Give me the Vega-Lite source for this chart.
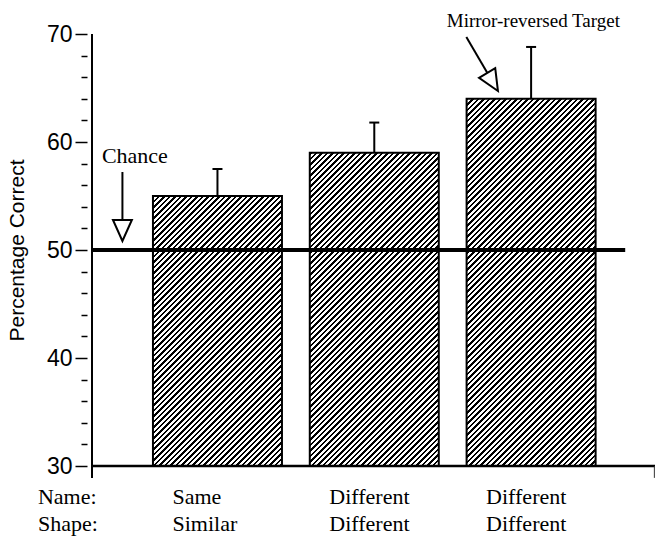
{
  "$schema": "https://vega.github.io/schema/vega-lite/v6.json",
  "width": 573,
  "height": 432,
  "autosize": {"type": "none"},
  "padding": {"left": 87, "top": 34, "right": 2, "bottom": 73},
  "config": {"view": {"stroke": null}, "font": "Liberation Sans", "axis": {"labelOverlap": false}},
  "data": {
    "values": [
      {"cond": 1, "name": "Same", "shape": "Similar", "pct": 55, "upper": 57.5},
      {"cond": 2, "name": "Different", "shape": "Different", "pct": 59, "upper": 61.8},
      {"cond": 3, "name": "Different", "shape": "Different", "pct": 64, "upper": 68.8}
    ]
  },
  "layer": [
    {
      "transform": [{"filter": "datum.cond === 1"}],
      "mark": {
        "type": "bar", "size": 129, "stroke": "black", "strokeWidth": 2,
        "fill": {
          "gradient": "linear", "x1": 0, "y1": 0, "x2": 0.7204, "y2": 1.5078,
          "stops": [
            {"offset":0,"color":"#000"},{"offset":0.005,"color":"#000"},{"offset":0.005,"color":"#fff"},{"offset":0.011,"color":"#fff"},
            {"offset":0.011,"color":"#000"},{"offset":0.016,"color":"#000"},{"offset":0.016,"color":"#fff"},{"offset":0.022,"color":"#fff"},
            {"offset":0.022,"color":"#000"},{"offset":0.027,"color":"#000"},{"offset":0.027,"color":"#fff"},{"offset":0.033,"color":"#fff"},
            {"offset":0.033,"color":"#000"},{"offset":0.038,"color":"#000"},{"offset":0.038,"color":"#fff"},{"offset":0.044,"color":"#fff"},
            {"offset":0.044,"color":"#000"},{"offset":0.049,"color":"#000"},{"offset":0.049,"color":"#fff"},{"offset":0.055,"color":"#fff"},
            {"offset":0.055,"color":"#000"},{"offset":0.06,"color":"#000"},{"offset":0.06,"color":"#fff"},{"offset":0.066,"color":"#fff"},
            {"offset":0.066,"color":"#000"},{"offset":0.071,"color":"#000"},{"offset":0.071,"color":"#fff"},{"offset":0.077,"color":"#fff"},
            {"offset":0.077,"color":"#000"},{"offset":0.082,"color":"#000"},{"offset":0.082,"color":"#fff"},{"offset":0.088,"color":"#fff"},
            {"offset":0.088,"color":"#000"},{"offset":0.093,"color":"#000"},{"offset":0.093,"color":"#fff"},{"offset":0.099,"color":"#fff"},
            {"offset":0.099,"color":"#000"},{"offset":0.104,"color":"#000"},{"offset":0.104,"color":"#fff"},{"offset":0.11,"color":"#fff"},
            {"offset":0.11,"color":"#000"},{"offset":0.115,"color":"#000"},{"offset":0.115,"color":"#fff"},{"offset":0.121,"color":"#fff"},
            {"offset":0.121,"color":"#000"},{"offset":0.126,"color":"#000"},{"offset":0.126,"color":"#fff"},{"offset":0.132,"color":"#fff"},
            {"offset":0.132,"color":"#000"},{"offset":0.137,"color":"#000"},{"offset":0.137,"color":"#fff"},{"offset":0.143,"color":"#fff"},
            {"offset":0.143,"color":"#000"},{"offset":0.148,"color":"#000"},{"offset":0.148,"color":"#fff"},{"offset":0.154,"color":"#fff"},
            {"offset":0.154,"color":"#000"},{"offset":0.159,"color":"#000"},{"offset":0.159,"color":"#fff"},{"offset":0.165,"color":"#fff"},
            {"offset":0.165,"color":"#000"},{"offset":0.17,"color":"#000"},{"offset":0.17,"color":"#fff"},{"offset":0.176,"color":"#fff"},
            {"offset":0.176,"color":"#000"},{"offset":0.181,"color":"#000"},{"offset":0.181,"color":"#fff"},{"offset":0.187,"color":"#fff"},
            {"offset":0.187,"color":"#000"},{"offset":0.192,"color":"#000"},{"offset":0.192,"color":"#fff"},{"offset":0.198,"color":"#fff"},
            {"offset":0.198,"color":"#000"},{"offset":0.203,"color":"#000"},{"offset":0.203,"color":"#fff"},{"offset":0.209,"color":"#fff"},
            {"offset":0.209,"color":"#000"},{"offset":0.214,"color":"#000"},{"offset":0.214,"color":"#fff"},{"offset":0.22,"color":"#fff"},
            {"offset":0.22,"color":"#000"},{"offset":0.225,"color":"#000"},{"offset":0.225,"color":"#fff"},{"offset":0.231,"color":"#fff"},
            {"offset":0.231,"color":"#000"},{"offset":0.236,"color":"#000"},{"offset":0.236,"color":"#fff"},{"offset":0.242,"color":"#fff"},
            {"offset":0.242,"color":"#000"},{"offset":0.247,"color":"#000"},{"offset":0.247,"color":"#fff"},{"offset":0.253,"color":"#fff"},
            {"offset":0.253,"color":"#000"},{"offset":0.258,"color":"#000"},{"offset":0.258,"color":"#fff"},{"offset":0.264,"color":"#fff"},
            {"offset":0.264,"color":"#000"},{"offset":0.269,"color":"#000"},{"offset":0.269,"color":"#fff"},{"offset":0.275,"color":"#fff"},
            {"offset":0.275,"color":"#000"},{"offset":0.28,"color":"#000"},{"offset":0.28,"color":"#fff"},{"offset":0.286,"color":"#fff"},
            {"offset":0.286,"color":"#000"},{"offset":0.291,"color":"#000"},{"offset":0.291,"color":"#fff"},{"offset":0.297,"color":"#fff"},
            {"offset":0.297,"color":"#000"},{"offset":0.302,"color":"#000"},{"offset":0.302,"color":"#fff"},{"offset":0.308,"color":"#fff"},
            {"offset":0.308,"color":"#000"},{"offset":0.313,"color":"#000"},{"offset":0.313,"color":"#fff"},{"offset":0.319,"color":"#fff"},
            {"offset":0.319,"color":"#000"},{"offset":0.324,"color":"#000"},{"offset":0.324,"color":"#fff"},{"offset":0.33,"color":"#fff"},
            {"offset":0.33,"color":"#000"},{"offset":0.335,"color":"#000"},{"offset":0.335,"color":"#fff"},{"offset":0.341,"color":"#fff"},
            {"offset":0.341,"color":"#000"},{"offset":0.346,"color":"#000"},{"offset":0.346,"color":"#fff"},{"offset":0.352,"color":"#fff"},
            {"offset":0.352,"color":"#000"},{"offset":0.357,"color":"#000"},{"offset":0.357,"color":"#fff"},{"offset":0.363,"color":"#fff"},
            {"offset":0.363,"color":"#000"},{"offset":0.368,"color":"#000"},{"offset":0.368,"color":"#fff"},{"offset":0.374,"color":"#fff"},
            {"offset":0.374,"color":"#000"},{"offset":0.379,"color":"#000"},{"offset":0.379,"color":"#fff"},{"offset":0.385,"color":"#fff"},
            {"offset":0.385,"color":"#000"},{"offset":0.39,"color":"#000"},{"offset":0.39,"color":"#fff"},{"offset":0.396,"color":"#fff"},
            {"offset":0.396,"color":"#000"},{"offset":0.401,"color":"#000"},{"offset":0.401,"color":"#fff"},{"offset":0.407,"color":"#fff"},
            {"offset":0.407,"color":"#000"},{"offset":0.412,"color":"#000"},{"offset":0.412,"color":"#fff"},{"offset":0.418,"color":"#fff"},
            {"offset":0.418,"color":"#000"},{"offset":0.423,"color":"#000"},{"offset":0.423,"color":"#fff"},{"offset":0.429,"color":"#fff"},
            {"offset":0.429,"color":"#000"},{"offset":0.434,"color":"#000"},{"offset":0.434,"color":"#fff"},{"offset":0.44,"color":"#fff"},
            {"offset":0.44,"color":"#000"},{"offset":0.445,"color":"#000"},{"offset":0.445,"color":"#fff"},{"offset":0.451,"color":"#fff"},
            {"offset":0.451,"color":"#000"},{"offset":0.456,"color":"#000"},{"offset":0.456,"color":"#fff"},{"offset":0.462,"color":"#fff"},
            {"offset":0.462,"color":"#000"},{"offset":0.467,"color":"#000"},{"offset":0.467,"color":"#fff"},{"offset":0.473,"color":"#fff"},
            {"offset":0.473,"color":"#000"},{"offset":0.478,"color":"#000"},{"offset":0.478,"color":"#fff"},{"offset":0.484,"color":"#fff"},
            {"offset":0.484,"color":"#000"},{"offset":0.489,"color":"#000"},{"offset":0.489,"color":"#fff"},{"offset":0.495,"color":"#fff"},
            {"offset":0.495,"color":"#000"},{"offset":0.5,"color":"#000"},{"offset":0.5,"color":"#fff"},{"offset":0.506,"color":"#fff"},
            {"offset":0.506,"color":"#000"},{"offset":0.511,"color":"#000"},{"offset":0.511,"color":"#fff"},{"offset":0.517,"color":"#fff"},
            {"offset":0.517,"color":"#000"},{"offset":0.522,"color":"#000"},{"offset":0.522,"color":"#fff"},{"offset":0.528,"color":"#fff"},
            {"offset":0.528,"color":"#000"},{"offset":0.533,"color":"#000"},{"offset":0.533,"color":"#fff"},{"offset":0.539,"color":"#fff"},
            {"offset":0.539,"color":"#000"},{"offset":0.544,"color":"#000"},{"offset":0.544,"color":"#fff"},{"offset":0.55,"color":"#fff"},
            {"offset":0.55,"color":"#000"},{"offset":0.555,"color":"#000"},{"offset":0.555,"color":"#fff"},{"offset":0.561,"color":"#fff"},
            {"offset":0.561,"color":"#000"},{"offset":0.566,"color":"#000"},{"offset":0.566,"color":"#fff"},{"offset":0.572,"color":"#fff"},
            {"offset":0.572,"color":"#000"},{"offset":0.577,"color":"#000"},{"offset":0.577,"color":"#fff"},{"offset":0.583,"color":"#fff"},
            {"offset":0.583,"color":"#000"},{"offset":0.588,"color":"#000"},{"offset":0.588,"color":"#fff"},{"offset":0.594,"color":"#fff"},
            {"offset":0.594,"color":"#000"},{"offset":0.599,"color":"#000"},{"offset":0.599,"color":"#fff"},{"offset":0.605,"color":"#fff"},
            {"offset":0.605,"color":"#000"},{"offset":0.61,"color":"#000"},{"offset":0.61,"color":"#fff"},{"offset":0.616,"color":"#fff"},
            {"offset":0.616,"color":"#000"},{"offset":0.621,"color":"#000"},{"offset":0.621,"color":"#fff"},{"offset":0.627,"color":"#fff"},
            {"offset":0.627,"color":"#000"},{"offset":0.632,"color":"#000"},{"offset":0.632,"color":"#fff"},{"offset":0.638,"color":"#fff"},
            {"offset":0.638,"color":"#000"},{"offset":0.643,"color":"#000"},{"offset":0.643,"color":"#fff"},{"offset":0.649,"color":"#fff"},
            {"offset":0.649,"color":"#000"},{"offset":0.654,"color":"#000"},{"offset":0.654,"color":"#fff"},{"offset":0.66,"color":"#fff"},
            {"offset":0.66,"color":"#000"},{"offset":0.665,"color":"#000"},{"offset":0.665,"color":"#fff"},{"offset":0.671,"color":"#fff"},
            {"offset":0.671,"color":"#000"},{"offset":0.676,"color":"#000"},{"offset":0.676,"color":"#fff"},{"offset":0.682,"color":"#fff"},
            {"offset":0.682,"color":"#000"},{"offset":0.687,"color":"#000"},{"offset":0.687,"color":"#fff"},{"offset":0.693,"color":"#fff"},
            {"offset":0.693,"color":"#000"},{"offset":0.698,"color":"#000"},{"offset":0.698,"color":"#fff"},{"offset":0.704,"color":"#fff"},
            {"offset":0.704,"color":"#000"},{"offset":0.709,"color":"#000"},{"offset":0.709,"color":"#fff"},{"offset":0.715,"color":"#fff"},
            {"offset":0.715,"color":"#000"},{"offset":0.72,"color":"#000"},{"offset":0.72,"color":"#fff"},{"offset":0.726,"color":"#fff"},
            {"offset":0.726,"color":"#000"},{"offset":0.731,"color":"#000"},{"offset":0.731,"color":"#fff"},{"offset":0.737,"color":"#fff"},
            {"offset":0.737,"color":"#000"},{"offset":0.742,"color":"#000"},{"offset":0.742,"color":"#fff"},{"offset":0.748,"color":"#fff"},
            {"offset":0.748,"color":"#000"},{"offset":0.753,"color":"#000"},{"offset":0.753,"color":"#fff"},{"offset":0.759,"color":"#fff"},
            {"offset":0.759,"color":"#000"},{"offset":0.764,"color":"#000"},{"offset":0.764,"color":"#fff"},{"offset":0.77,"color":"#fff"},
            {"offset":0.77,"color":"#000"},{"offset":0.775,"color":"#000"},{"offset":0.775,"color":"#fff"},{"offset":0.781,"color":"#fff"},
            {"offset":0.781,"color":"#000"},{"offset":0.786,"color":"#000"},{"offset":0.786,"color":"#fff"},{"offset":0.792,"color":"#fff"},
            {"offset":0.792,"color":"#000"},{"offset":0.797,"color":"#000"},{"offset":0.797,"color":"#fff"},{"offset":0.803,"color":"#fff"}
          ]
        }
      },
      "encoding": {
        "x": {"field": "cond", "type": "quantitative", "scale": {"domain": [0.2, 3.79], "nice": false, "zero": false}, "axis": null},
        "y": {
          "field": "pct",
          "type": "quantitative",
          "scale": {"domain": [30, 70], "nice": false, "zero": false},
          "axis": {
            "values": [30, 32, 34, 36, 38, 40, 42, 44, 46, 48, 50, 52, 54, 56, 58, 60, 62, 64, 66, 68, 70],
            "tickCount": 40,
            "labelExpr": "datum.value % 10 === 0 ? datum.label : ''",
            "labelOverlap": false,
            "labelFontSize": {"condition": {"test": "datum.value % 10 === 0", "value": 23}, "value": 0},
            "tickSize": {"condition": {"test": "datum.value % 10 === 0", "value": 12}, "value": 6},
            "tickColor": "black",
            "tickWidth": 1.5,
            "domain": false,
            "grid": false,
            "labelFont": "Liberation Sans",
            "labelColor": "black",
            "labelPadding": 3,
            "title": "Percentage Correct",
            "titleFont": "Liberation Sans",
            "titleFontSize": 21,
            "titleFontWeight": "normal",
            "titleColor": "black",
            "titlePadding": 19
          }
        },
        "y2": {"datum": 30}
      }
    },
    {
      "transform": [{"filter": "datum.cond === 2"}],
      "mark": {
        "type": "bar", "size": 129, "stroke": "black", "strokeWidth": 2,
        "fill": {
          "gradient": "linear", "x1": 0, "y1": 0, "x2": 0.5622, "y2": 1.3649,
          "stops": [
            {"offset":0,"color":"#000"},{"offset":0.005,"color":"#000"},{"offset":0.005,"color":"#fff"},{"offset":0.011,"color":"#fff"},
            {"offset":0.011,"color":"#000"},{"offset":0.016,"color":"#000"},{"offset":0.016,"color":"#fff"},{"offset":0.022,"color":"#fff"},
            {"offset":0.022,"color":"#000"},{"offset":0.027,"color":"#000"},{"offset":0.027,"color":"#fff"},{"offset":0.033,"color":"#fff"},
            {"offset":0.033,"color":"#000"},{"offset":0.038,"color":"#000"},{"offset":0.038,"color":"#fff"},{"offset":0.044,"color":"#fff"},
            {"offset":0.044,"color":"#000"},{"offset":0.049,"color":"#000"},{"offset":0.049,"color":"#fff"},{"offset":0.055,"color":"#fff"},
            {"offset":0.055,"color":"#000"},{"offset":0.06,"color":"#000"},{"offset":0.06,"color":"#fff"},{"offset":0.066,"color":"#fff"},
            {"offset":0.066,"color":"#000"},{"offset":0.071,"color":"#000"},{"offset":0.071,"color":"#fff"},{"offset":0.077,"color":"#fff"},
            {"offset":0.077,"color":"#000"},{"offset":0.082,"color":"#000"},{"offset":0.082,"color":"#fff"},{"offset":0.088,"color":"#fff"},
            {"offset":0.088,"color":"#000"},{"offset":0.093,"color":"#000"},{"offset":0.093,"color":"#fff"},{"offset":0.099,"color":"#fff"},
            {"offset":0.099,"color":"#000"},{"offset":0.104,"color":"#000"},{"offset":0.104,"color":"#fff"},{"offset":0.11,"color":"#fff"},
            {"offset":0.11,"color":"#000"},{"offset":0.115,"color":"#000"},{"offset":0.115,"color":"#fff"},{"offset":0.121,"color":"#fff"},
            {"offset":0.121,"color":"#000"},{"offset":0.126,"color":"#000"},{"offset":0.126,"color":"#fff"},{"offset":0.132,"color":"#fff"},
            {"offset":0.132,"color":"#000"},{"offset":0.137,"color":"#000"},{"offset":0.137,"color":"#fff"},{"offset":0.143,"color":"#fff"},
            {"offset":0.143,"color":"#000"},{"offset":0.148,"color":"#000"},{"offset":0.148,"color":"#fff"},{"offset":0.154,"color":"#fff"},
            {"offset":0.154,"color":"#000"},{"offset":0.159,"color":"#000"},{"offset":0.159,"color":"#fff"},{"offset":0.165,"color":"#fff"},
            {"offset":0.165,"color":"#000"},{"offset":0.17,"color":"#000"},{"offset":0.17,"color":"#fff"},{"offset":0.176,"color":"#fff"},
            {"offset":0.176,"color":"#000"},{"offset":0.181,"color":"#000"},{"offset":0.181,"color":"#fff"},{"offset":0.187,"color":"#fff"},
            {"offset":0.187,"color":"#000"},{"offset":0.192,"color":"#000"},{"offset":0.192,"color":"#fff"},{"offset":0.198,"color":"#fff"},
            {"offset":0.198,"color":"#000"},{"offset":0.203,"color":"#000"},{"offset":0.203,"color":"#fff"},{"offset":0.209,"color":"#fff"},
            {"offset":0.209,"color":"#000"},{"offset":0.214,"color":"#000"},{"offset":0.214,"color":"#fff"},{"offset":0.22,"color":"#fff"},
            {"offset":0.22,"color":"#000"},{"offset":0.225,"color":"#000"},{"offset":0.225,"color":"#fff"},{"offset":0.231,"color":"#fff"},
            {"offset":0.231,"color":"#000"},{"offset":0.236,"color":"#000"},{"offset":0.236,"color":"#fff"},{"offset":0.242,"color":"#fff"},
            {"offset":0.242,"color":"#000"},{"offset":0.247,"color":"#000"},{"offset":0.247,"color":"#fff"},{"offset":0.253,"color":"#fff"},
            {"offset":0.253,"color":"#000"},{"offset":0.258,"color":"#000"},{"offset":0.258,"color":"#fff"},{"offset":0.264,"color":"#fff"},
            {"offset":0.264,"color":"#000"},{"offset":0.269,"color":"#000"},{"offset":0.269,"color":"#fff"},{"offset":0.275,"color":"#fff"},
            {"offset":0.275,"color":"#000"},{"offset":0.28,"color":"#000"},{"offset":0.28,"color":"#fff"},{"offset":0.286,"color":"#fff"},
            {"offset":0.286,"color":"#000"},{"offset":0.291,"color":"#000"},{"offset":0.291,"color":"#fff"},{"offset":0.297,"color":"#fff"},
            {"offset":0.297,"color":"#000"},{"offset":0.302,"color":"#000"},{"offset":0.302,"color":"#fff"},{"offset":0.308,"color":"#fff"},
            {"offset":0.308,"color":"#000"},{"offset":0.313,"color":"#000"},{"offset":0.313,"color":"#fff"},{"offset":0.319,"color":"#fff"},
            {"offset":0.319,"color":"#000"},{"offset":0.324,"color":"#000"},{"offset":0.324,"color":"#fff"},{"offset":0.33,"color":"#fff"},
            {"offset":0.33,"color":"#000"},{"offset":0.335,"color":"#000"},{"offset":0.335,"color":"#fff"},{"offset":0.341,"color":"#fff"},
            {"offset":0.341,"color":"#000"},{"offset":0.346,"color":"#000"},{"offset":0.346,"color":"#fff"},{"offset":0.352,"color":"#fff"},
            {"offset":0.352,"color":"#000"},{"offset":0.357,"color":"#000"},{"offset":0.357,"color":"#fff"},{"offset":0.363,"color":"#fff"},
            {"offset":0.363,"color":"#000"},{"offset":0.368,"color":"#000"},{"offset":0.368,"color":"#fff"},{"offset":0.374,"color":"#fff"},
            {"offset":0.374,"color":"#000"},{"offset":0.379,"color":"#000"},{"offset":0.379,"color":"#fff"},{"offset":0.385,"color":"#fff"},
            {"offset":0.385,"color":"#000"},{"offset":0.39,"color":"#000"},{"offset":0.39,"color":"#fff"},{"offset":0.396,"color":"#fff"},
            {"offset":0.396,"color":"#000"},{"offset":0.401,"color":"#000"},{"offset":0.401,"color":"#fff"},{"offset":0.407,"color":"#fff"},
            {"offset":0.407,"color":"#000"},{"offset":0.412,"color":"#000"},{"offset":0.412,"color":"#fff"},{"offset":0.418,"color":"#fff"},
            {"offset":0.418,"color":"#000"},{"offset":0.423,"color":"#000"},{"offset":0.423,"color":"#fff"},{"offset":0.429,"color":"#fff"},
            {"offset":0.429,"color":"#000"},{"offset":0.434,"color":"#000"},{"offset":0.434,"color":"#fff"},{"offset":0.44,"color":"#fff"},
            {"offset":0.44,"color":"#000"},{"offset":0.445,"color":"#000"},{"offset":0.445,"color":"#fff"},{"offset":0.451,"color":"#fff"},
            {"offset":0.451,"color":"#000"},{"offset":0.456,"color":"#000"},{"offset":0.456,"color":"#fff"},{"offset":0.462,"color":"#fff"},
            {"offset":0.462,"color":"#000"},{"offset":0.467,"color":"#000"},{"offset":0.467,"color":"#fff"},{"offset":0.473,"color":"#fff"},
            {"offset":0.473,"color":"#000"},{"offset":0.478,"color":"#000"},{"offset":0.478,"color":"#fff"},{"offset":0.484,"color":"#fff"},
            {"offset":0.484,"color":"#000"},{"offset":0.489,"color":"#000"},{"offset":0.489,"color":"#fff"},{"offset":0.495,"color":"#fff"},
            {"offset":0.495,"color":"#000"},{"offset":0.5,"color":"#000"},{"offset":0.5,"color":"#fff"},{"offset":0.506,"color":"#fff"},
            {"offset":0.506,"color":"#000"},{"offset":0.511,"color":"#000"},{"offset":0.511,"color":"#fff"},{"offset":0.517,"color":"#fff"},
            {"offset":0.517,"color":"#000"},{"offset":0.522,"color":"#000"},{"offset":0.522,"color":"#fff"},{"offset":0.528,"color":"#fff"},
            {"offset":0.528,"color":"#000"},{"offset":0.533,"color":"#000"},{"offset":0.533,"color":"#fff"},{"offset":0.539,"color":"#fff"},
            {"offset":0.539,"color":"#000"},{"offset":0.544,"color":"#000"},{"offset":0.544,"color":"#fff"},{"offset":0.55,"color":"#fff"},
            {"offset":0.55,"color":"#000"},{"offset":0.555,"color":"#000"},{"offset":0.555,"color":"#fff"},{"offset":0.561,"color":"#fff"},
            {"offset":0.561,"color":"#000"},{"offset":0.566,"color":"#000"},{"offset":0.566,"color":"#fff"},{"offset":0.572,"color":"#fff"},
            {"offset":0.572,"color":"#000"},{"offset":0.577,"color":"#000"},{"offset":0.577,"color":"#fff"},{"offset":0.583,"color":"#fff"},
            {"offset":0.583,"color":"#000"},{"offset":0.588,"color":"#000"},{"offset":0.588,"color":"#fff"},{"offset":0.594,"color":"#fff"},
            {"offset":0.594,"color":"#000"},{"offset":0.599,"color":"#000"},{"offset":0.599,"color":"#fff"},{"offset":0.605,"color":"#fff"},
            {"offset":0.605,"color":"#000"},{"offset":0.61,"color":"#000"},{"offset":0.61,"color":"#fff"},{"offset":0.616,"color":"#fff"},
            {"offset":0.616,"color":"#000"},{"offset":0.621,"color":"#000"},{"offset":0.621,"color":"#fff"},{"offset":0.627,"color":"#fff"},
            {"offset":0.627,"color":"#000"},{"offset":0.632,"color":"#000"},{"offset":0.632,"color":"#fff"},{"offset":0.638,"color":"#fff"},
            {"offset":0.638,"color":"#000"},{"offset":0.643,"color":"#000"},{"offset":0.643,"color":"#fff"},{"offset":0.649,"color":"#fff"},
            {"offset":0.649,"color":"#000"},{"offset":0.654,"color":"#000"},{"offset":0.654,"color":"#fff"},{"offset":0.66,"color":"#fff"},
            {"offset":0.66,"color":"#000"},{"offset":0.665,"color":"#000"},{"offset":0.665,"color":"#fff"},{"offset":0.671,"color":"#fff"},
            {"offset":0.671,"color":"#000"},{"offset":0.676,"color":"#000"},{"offset":0.676,"color":"#fff"},{"offset":0.682,"color":"#fff"},
            {"offset":0.682,"color":"#000"},{"offset":0.687,"color":"#000"},{"offset":0.687,"color":"#fff"},{"offset":0.693,"color":"#fff"},
            {"offset":0.693,"color":"#000"},{"offset":0.698,"color":"#000"},{"offset":0.698,"color":"#fff"},{"offset":0.704,"color":"#fff"},
            {"offset":0.704,"color":"#000"},{"offset":0.709,"color":"#000"},{"offset":0.709,"color":"#fff"},{"offset":0.715,"color":"#fff"},
            {"offset":0.715,"color":"#000"},{"offset":0.72,"color":"#000"},{"offset":0.72,"color":"#fff"},{"offset":0.726,"color":"#fff"},
            {"offset":0.726,"color":"#000"},{"offset":0.731,"color":"#000"},{"offset":0.731,"color":"#fff"},{"offset":0.737,"color":"#fff"},
            {"offset":0.737,"color":"#000"},{"offset":0.742,"color":"#000"},{"offset":0.742,"color":"#fff"},{"offset":0.748,"color":"#fff"},
            {"offset":0.748,"color":"#000"},{"offset":0.753,"color":"#000"},{"offset":0.753,"color":"#fff"},{"offset":0.759,"color":"#fff"},
            {"offset":0.759,"color":"#000"},{"offset":0.764,"color":"#000"},{"offset":0.764,"color":"#fff"},{"offset":0.77,"color":"#fff"},
            {"offset":0.77,"color":"#000"},{"offset":0.775,"color":"#000"},{"offset":0.775,"color":"#fff"},{"offset":0.781,"color":"#fff"},
            {"offset":0.781,"color":"#000"},{"offset":0.786,"color":"#000"},{"offset":0.786,"color":"#fff"},{"offset":0.792,"color":"#fff"},
            {"offset":0.792,"color":"#000"},{"offset":0.797,"color":"#000"},{"offset":0.797,"color":"#fff"},{"offset":0.803,"color":"#fff"},
            {"offset":0.803,"color":"#000"},{"offset":0.808,"color":"#000"},{"offset":0.808,"color":"#fff"},{"offset":0.814,"color":"#fff"},
            {"offset":0.814,"color":"#000"},{"offset":0.819,"color":"#000"},{"offset":0.819,"color":"#fff"},{"offset":0.825,"color":"#fff"},
            {"offset":0.825,"color":"#000"},{"offset":0.83,"color":"#000"},{"offset":0.83,"color":"#fff"},{"offset":0.836,"color":"#fff"},
            {"offset":0.836,"color":"#000"},{"offset":0.841,"color":"#000"},{"offset":0.841,"color":"#fff"},{"offset":0.847,"color":"#fff"},
            {"offset":0.847,"color":"#000"},{"offset":0.852,"color":"#000"},{"offset":0.852,"color":"#fff"},{"offset":0.858,"color":"#fff"},
            {"offset":0.858,"color":"#000"},{"offset":0.863,"color":"#000"},{"offset":0.863,"color":"#fff"},{"offset":0.869,"color":"#fff"},
            {"offset":0.869,"color":"#000"},{"offset":0.874,"color":"#000"},{"offset":0.874,"color":"#fff"},{"offset":0.88,"color":"#fff"},
            {"offset":0.88,"color":"#000"},{"offset":0.885,"color":"#000"},{"offset":0.885,"color":"#fff"},{"offset":0.891,"color":"#fff"}
          ]
        }
      },
      "encoding": {
        "x": {"field": "cond", "type": "quantitative"},
        "y": {"field": "pct", "type": "quantitative"},
        "y2": {"datum": 30}
      }
    },
    {
      "transform": [{"filter": "datum.cond === 3"}],
      "mark": {
        "type": "bar", "size": 129, "stroke": "black", "strokeWidth": 2,
        "fill": {
          "gradient": "linear", "x1": 0, "y1": 0, "x2": 0.4258, "y2": 1.2121,
          "stops": [
            {"offset":0,"color":"#000"},{"offset":0.005,"color":"#000"},{"offset":0.005,"color":"#fff"},{"offset":0.011,"color":"#fff"},
            {"offset":0.011,"color":"#000"},{"offset":0.016,"color":"#000"},{"offset":0.016,"color":"#fff"},{"offset":0.022,"color":"#fff"},
            {"offset":0.022,"color":"#000"},{"offset":0.027,"color":"#000"},{"offset":0.027,"color":"#fff"},{"offset":0.033,"color":"#fff"},
            {"offset":0.033,"color":"#000"},{"offset":0.038,"color":"#000"},{"offset":0.038,"color":"#fff"},{"offset":0.044,"color":"#fff"},
            {"offset":0.044,"color":"#000"},{"offset":0.049,"color":"#000"},{"offset":0.049,"color":"#fff"},{"offset":0.055,"color":"#fff"},
            {"offset":0.055,"color":"#000"},{"offset":0.06,"color":"#000"},{"offset":0.06,"color":"#fff"},{"offset":0.066,"color":"#fff"},
            {"offset":0.066,"color":"#000"},{"offset":0.071,"color":"#000"},{"offset":0.071,"color":"#fff"},{"offset":0.077,"color":"#fff"},
            {"offset":0.077,"color":"#000"},{"offset":0.082,"color":"#000"},{"offset":0.082,"color":"#fff"},{"offset":0.088,"color":"#fff"},
            {"offset":0.088,"color":"#000"},{"offset":0.093,"color":"#000"},{"offset":0.093,"color":"#fff"},{"offset":0.099,"color":"#fff"},
            {"offset":0.099,"color":"#000"},{"offset":0.104,"color":"#000"},{"offset":0.104,"color":"#fff"},{"offset":0.11,"color":"#fff"},
            {"offset":0.11,"color":"#000"},{"offset":0.115,"color":"#000"},{"offset":0.115,"color":"#fff"},{"offset":0.121,"color":"#fff"},
            {"offset":0.121,"color":"#000"},{"offset":0.126,"color":"#000"},{"offset":0.126,"color":"#fff"},{"offset":0.132,"color":"#fff"},
            {"offset":0.132,"color":"#000"},{"offset":0.137,"color":"#000"},{"offset":0.137,"color":"#fff"},{"offset":0.143,"color":"#fff"},
            {"offset":0.143,"color":"#000"},{"offset":0.148,"color":"#000"},{"offset":0.148,"color":"#fff"},{"offset":0.154,"color":"#fff"},
            {"offset":0.154,"color":"#000"},{"offset":0.159,"color":"#000"},{"offset":0.159,"color":"#fff"},{"offset":0.165,"color":"#fff"},
            {"offset":0.165,"color":"#000"},{"offset":0.17,"color":"#000"},{"offset":0.17,"color":"#fff"},{"offset":0.176,"color":"#fff"},
            {"offset":0.176,"color":"#000"},{"offset":0.181,"color":"#000"},{"offset":0.181,"color":"#fff"},{"offset":0.187,"color":"#fff"},
            {"offset":0.187,"color":"#000"},{"offset":0.192,"color":"#000"},{"offset":0.192,"color":"#fff"},{"offset":0.198,"color":"#fff"},
            {"offset":0.198,"color":"#000"},{"offset":0.203,"color":"#000"},{"offset":0.203,"color":"#fff"},{"offset":0.209,"color":"#fff"},
            {"offset":0.209,"color":"#000"},{"offset":0.214,"color":"#000"},{"offset":0.214,"color":"#fff"},{"offset":0.22,"color":"#fff"},
            {"offset":0.22,"color":"#000"},{"offset":0.225,"color":"#000"},{"offset":0.225,"color":"#fff"},{"offset":0.231,"color":"#fff"},
            {"offset":0.231,"color":"#000"},{"offset":0.236,"color":"#000"},{"offset":0.236,"color":"#fff"},{"offset":0.242,"color":"#fff"},
            {"offset":0.242,"color":"#000"},{"offset":0.247,"color":"#000"},{"offset":0.247,"color":"#fff"},{"offset":0.253,"color":"#fff"},
            {"offset":0.253,"color":"#000"},{"offset":0.258,"color":"#000"},{"offset":0.258,"color":"#fff"},{"offset":0.264,"color":"#fff"},
            {"offset":0.264,"color":"#000"},{"offset":0.269,"color":"#000"},{"offset":0.269,"color":"#fff"},{"offset":0.275,"color":"#fff"},
            {"offset":0.275,"color":"#000"},{"offset":0.28,"color":"#000"},{"offset":0.28,"color":"#fff"},{"offset":0.286,"color":"#fff"},
            {"offset":0.286,"color":"#000"},{"offset":0.291,"color":"#000"},{"offset":0.291,"color":"#fff"},{"offset":0.297,"color":"#fff"},
            {"offset":0.297,"color":"#000"},{"offset":0.302,"color":"#000"},{"offset":0.302,"color":"#fff"},{"offset":0.308,"color":"#fff"},
            {"offset":0.308,"color":"#000"},{"offset":0.313,"color":"#000"},{"offset":0.313,"color":"#fff"},{"offset":0.319,"color":"#fff"},
            {"offset":0.319,"color":"#000"},{"offset":0.324,"color":"#000"},{"offset":0.324,"color":"#fff"},{"offset":0.33,"color":"#fff"},
            {"offset":0.33,"color":"#000"},{"offset":0.335,"color":"#000"},{"offset":0.335,"color":"#fff"},{"offset":0.341,"color":"#fff"},
            {"offset":0.341,"color":"#000"},{"offset":0.346,"color":"#000"},{"offset":0.346,"color":"#fff"},{"offset":0.352,"color":"#fff"},
            {"offset":0.352,"color":"#000"},{"offset":0.357,"color":"#000"},{"offset":0.357,"color":"#fff"},{"offset":0.363,"color":"#fff"},
            {"offset":0.363,"color":"#000"},{"offset":0.368,"color":"#000"},{"offset":0.368,"color":"#fff"},{"offset":0.374,"color":"#fff"},
            {"offset":0.374,"color":"#000"},{"offset":0.379,"color":"#000"},{"offset":0.379,"color":"#fff"},{"offset":0.385,"color":"#fff"},
            {"offset":0.385,"color":"#000"},{"offset":0.39,"color":"#000"},{"offset":0.39,"color":"#fff"},{"offset":0.396,"color":"#fff"},
            {"offset":0.396,"color":"#000"},{"offset":0.401,"color":"#000"},{"offset":0.401,"color":"#fff"},{"offset":0.407,"color":"#fff"},
            {"offset":0.407,"color":"#000"},{"offset":0.412,"color":"#000"},{"offset":0.412,"color":"#fff"},{"offset":0.418,"color":"#fff"},
            {"offset":0.418,"color":"#000"},{"offset":0.423,"color":"#000"},{"offset":0.423,"color":"#fff"},{"offset":0.429,"color":"#fff"},
            {"offset":0.429,"color":"#000"},{"offset":0.434,"color":"#000"},{"offset":0.434,"color":"#fff"},{"offset":0.44,"color":"#fff"},
            {"offset":0.44,"color":"#000"},{"offset":0.445,"color":"#000"},{"offset":0.445,"color":"#fff"},{"offset":0.451,"color":"#fff"},
            {"offset":0.451,"color":"#000"},{"offset":0.456,"color":"#000"},{"offset":0.456,"color":"#fff"},{"offset":0.462,"color":"#fff"},
            {"offset":0.462,"color":"#000"},{"offset":0.467,"color":"#000"},{"offset":0.467,"color":"#fff"},{"offset":0.473,"color":"#fff"},
            {"offset":0.473,"color":"#000"},{"offset":0.478,"color":"#000"},{"offset":0.478,"color":"#fff"},{"offset":0.484,"color":"#fff"},
            {"offset":0.484,"color":"#000"},{"offset":0.489,"color":"#000"},{"offset":0.489,"color":"#fff"},{"offset":0.495,"color":"#fff"},
            {"offset":0.495,"color":"#000"},{"offset":0.5,"color":"#000"},{"offset":0.5,"color":"#fff"},{"offset":0.506,"color":"#fff"},
            {"offset":0.506,"color":"#000"},{"offset":0.511,"color":"#000"},{"offset":0.511,"color":"#fff"},{"offset":0.517,"color":"#fff"},
            {"offset":0.517,"color":"#000"},{"offset":0.522,"color":"#000"},{"offset":0.522,"color":"#fff"},{"offset":0.528,"color":"#fff"},
            {"offset":0.528,"color":"#000"},{"offset":0.533,"color":"#000"},{"offset":0.533,"color":"#fff"},{"offset":0.539,"color":"#fff"},
            {"offset":0.539,"color":"#000"},{"offset":0.544,"color":"#000"},{"offset":0.544,"color":"#fff"},{"offset":0.55,"color":"#fff"},
            {"offset":0.55,"color":"#000"},{"offset":0.555,"color":"#000"},{"offset":0.555,"color":"#fff"},{"offset":0.561,"color":"#fff"},
            {"offset":0.561,"color":"#000"},{"offset":0.566,"color":"#000"},{"offset":0.566,"color":"#fff"},{"offset":0.572,"color":"#fff"},
            {"offset":0.572,"color":"#000"},{"offset":0.577,"color":"#000"},{"offset":0.577,"color":"#fff"},{"offset":0.583,"color":"#fff"},
            {"offset":0.583,"color":"#000"},{"offset":0.588,"color":"#000"},{"offset":0.588,"color":"#fff"},{"offset":0.594,"color":"#fff"},
            {"offset":0.594,"color":"#000"},{"offset":0.599,"color":"#000"},{"offset":0.599,"color":"#fff"},{"offset":0.605,"color":"#fff"},
            {"offset":0.605,"color":"#000"},{"offset":0.61,"color":"#000"},{"offset":0.61,"color":"#fff"},{"offset":0.616,"color":"#fff"},
            {"offset":0.616,"color":"#000"},{"offset":0.621,"color":"#000"},{"offset":0.621,"color":"#fff"},{"offset":0.627,"color":"#fff"},
            {"offset":0.627,"color":"#000"},{"offset":0.632,"color":"#000"},{"offset":0.632,"color":"#fff"},{"offset":0.638,"color":"#fff"},
            {"offset":0.638,"color":"#000"},{"offset":0.643,"color":"#000"},{"offset":0.643,"color":"#fff"},{"offset":0.649,"color":"#fff"},
            {"offset":0.649,"color":"#000"},{"offset":0.654,"color":"#000"},{"offset":0.654,"color":"#fff"},{"offset":0.66,"color":"#fff"},
            {"offset":0.66,"color":"#000"},{"offset":0.665,"color":"#000"},{"offset":0.665,"color":"#fff"},{"offset":0.671,"color":"#fff"},
            {"offset":0.671,"color":"#000"},{"offset":0.676,"color":"#000"},{"offset":0.676,"color":"#fff"},{"offset":0.682,"color":"#fff"},
            {"offset":0.682,"color":"#000"},{"offset":0.687,"color":"#000"},{"offset":0.687,"color":"#fff"},{"offset":0.693,"color":"#fff"},
            {"offset":0.693,"color":"#000"},{"offset":0.698,"color":"#000"},{"offset":0.698,"color":"#fff"},{"offset":0.704,"color":"#fff"},
            {"offset":0.704,"color":"#000"},{"offset":0.709,"color":"#000"},{"offset":0.709,"color":"#fff"},{"offset":0.715,"color":"#fff"},
            {"offset":0.715,"color":"#000"},{"offset":0.72,"color":"#000"},{"offset":0.72,"color":"#fff"},{"offset":0.726,"color":"#fff"},
            {"offset":0.726,"color":"#000"},{"offset":0.731,"color":"#000"},{"offset":0.731,"color":"#fff"},{"offset":0.737,"color":"#fff"},
            {"offset":0.737,"color":"#000"},{"offset":0.742,"color":"#000"},{"offset":0.742,"color":"#fff"},{"offset":0.748,"color":"#fff"},
            {"offset":0.748,"color":"#000"},{"offset":0.753,"color":"#000"},{"offset":0.753,"color":"#fff"},{"offset":0.759,"color":"#fff"},
            {"offset":0.759,"color":"#000"},{"offset":0.764,"color":"#000"},{"offset":0.764,"color":"#fff"},{"offset":0.77,"color":"#fff"},
            {"offset":0.77,"color":"#000"},{"offset":0.775,"color":"#000"},{"offset":0.775,"color":"#fff"},{"offset":0.781,"color":"#fff"},
            {"offset":0.781,"color":"#000"},{"offset":0.786,"color":"#000"},{"offset":0.786,"color":"#fff"},{"offset":0.792,"color":"#fff"},
            {"offset":0.792,"color":"#000"},{"offset":0.797,"color":"#000"},{"offset":0.797,"color":"#fff"},{"offset":0.803,"color":"#fff"},
            {"offset":0.803,"color":"#000"},{"offset":0.808,"color":"#000"},{"offset":0.808,"color":"#fff"},{"offset":0.814,"color":"#fff"},
            {"offset":0.814,"color":"#000"},{"offset":0.819,"color":"#000"},{"offset":0.819,"color":"#fff"},{"offset":0.825,"color":"#fff"},
            {"offset":0.825,"color":"#000"},{"offset":0.83,"color":"#000"},{"offset":0.83,"color":"#fff"},{"offset":0.836,"color":"#fff"},
            {"offset":0.836,"color":"#000"},{"offset":0.841,"color":"#000"},{"offset":0.841,"color":"#fff"},{"offset":0.847,"color":"#fff"},
            {"offset":0.847,"color":"#000"},{"offset":0.852,"color":"#000"},{"offset":0.852,"color":"#fff"},{"offset":0.858,"color":"#fff"},
            {"offset":0.858,"color":"#000"},{"offset":0.863,"color":"#000"},{"offset":0.863,"color":"#fff"},{"offset":0.869,"color":"#fff"},
            {"offset":0.869,"color":"#000"},{"offset":0.874,"color":"#000"},{"offset":0.874,"color":"#fff"},{"offset":0.88,"color":"#fff"},
            {"offset":0.88,"color":"#000"},{"offset":0.885,"color":"#000"},{"offset":0.885,"color":"#fff"},{"offset":0.891,"color":"#fff"},
            {"offset":0.891,"color":"#000"},{"offset":0.896,"color":"#000"},{"offset":0.896,"color":"#fff"},{"offset":0.902,"color":"#fff"},
            {"offset":0.902,"color":"#000"},{"offset":0.907,"color":"#000"},{"offset":0.907,"color":"#fff"},{"offset":0.913,"color":"#fff"},
            {"offset":0.913,"color":"#000"},{"offset":0.918,"color":"#000"},{"offset":0.918,"color":"#fff"},{"offset":0.924,"color":"#fff"},
            {"offset":0.924,"color":"#000"},{"offset":0.929,"color":"#000"},{"offset":0.929,"color":"#fff"},{"offset":0.935,"color":"#fff"},
            {"offset":0.935,"color":"#000"},{"offset":0.94,"color":"#000"},{"offset":0.94,"color":"#fff"},{"offset":0.946,"color":"#fff"},
            {"offset":0.946,"color":"#000"},{"offset":0.951,"color":"#000"},{"offset":0.951,"color":"#fff"},{"offset":0.957,"color":"#fff"},
            {"offset":0.957,"color":"#000"},{"offset":0.962,"color":"#000"},{"offset":0.962,"color":"#fff"},{"offset":0.968,"color":"#fff"},
            {"offset":0.968,"color":"#000"},{"offset":0.973,"color":"#000"},{"offset":0.973,"color":"#fff"},{"offset":0.979,"color":"#fff"},
            {"offset":0.979,"color":"#000"},{"offset":0.984,"color":"#000"},{"offset":0.984,"color":"#fff"},{"offset":0.99,"color":"#fff"},
            {"offset":0.99,"color":"#000"},{"offset":0.995,"color":"#000"},{"offset":0.995,"color":"#fff"},{"offset":1,"color":"#fff"}
          ]
        }
      },
      "encoding": {
        "x": {"field": "cond", "type": "quantitative"},
        "y": {"field": "pct", "type": "quantitative"},
        "y2": {"datum": 30}
      }
    },
    {
      "data": {"values": [{}]},
      "mark": {"type": "rule", "color": "black", "strokeWidth": 4},
      "encoding": {
        "x": {"datum": 0.2, "type": "quantitative"},
        "x2": {"datum": 3.6},
        "y": {"datum": 50, "type": "quantitative"}
      }
    },
    {
      "mark": {"type": "rule", "color": "black", "strokeWidth": 2},
      "encoding": {
        "x": {"field": "cond", "type": "quantitative"},
        "y": {"field": "pct", "type": "quantitative"},
        "y2": {"field": "upper"}
      }
    },
    {
      "mark": {"type": "tick", "orient": "horizontal", "color": "black", "size": 10, "thickness": 2, "opacity": 1},
      "encoding": {
        "x": {"field": "cond", "type": "quantitative"},
        "y": {"field": "upper", "type": "quantitative"}
      }
    },
    {
      "data": {"values": [{}]},
      "mark": {"type": "rule", "color": "black", "strokeWidth": 2},
      "encoding": {
        "x": {"datum": 0.2, "type": "quantitative"},
        "y": {"datum": 28.9, "type": "quantitative"},
        "y2": {"datum": 70}
      }
    },
    {
      "data": {"values": [{}]},
      "mark": {"type": "rule", "color": "black", "strokeWidth": 2.5},
      "encoding": {
        "x": {"datum": 0.2, "type": "quantitative"},
        "x2": {"datum": 3.79},
        "y": {"datum": 30, "type": "quantitative"}
      }
    },
    {
      "data": {"values": [{}]},
      "mark": {"type": "rule", "color": "#333", "strokeWidth": 1},
      "encoding": {
        "x": {"datum": 3.786, "type": "quantitative"},
        "y": {"datum": 30, "type": "quantitative"},
        "y2": {"datum": 28.9}
      }
    },
    {
      "data": {"values": [{}]},
      "mark": {"type": "text", "text": "Chance", "font": "Liberation Serif", "fontSize": 22, "align": "left", "baseline": "alphabetic", "color": "black"},
      "encoding": {
        "x": {"datum": 0.263, "type": "quantitative"},
        "y": {"datum": 58.06, "type": "quantitative"}
      }
    },
    {
      "data": {"values": [{}]},
      "mark": {"type": "rule", "color": "black", "strokeWidth": 2},
      "encoding": {
        "x": {"datum": 0.394, "type": "quantitative"},
        "y": {"datum": 57.22, "type": "quantitative"},
        "y2": {"datum": 52.59}
      }
    },
    {
      "data": {"values": [{}]},
      "mark": {"type": "point", "shape": "M -0.9 -1 L 0.9 -1 L 0 1 Z", "size": 441, "filled": false, "fill": "white", "fillOpacity": 1, "stroke": "black", "strokeWidth": 2, "opacity": 1},
      "encoding": {
        "x": {"datum": 0.394, "type": "quantitative"},
        "y": {"datum": 51.81, "type": "quantitative"}
      }
    },
    {
      "data": {"values": [{}]},
      "mark": {"type": "text", "text": "Mirror-reversed Target", "font": "Liberation Serif", "fontSize": 19, "align": "left", "baseline": "alphabetic", "color": "black"},
      "encoding": {
        "x": {"datum": 2.462, "type": "quantitative"},
        "y": {"datum": 70.65, "type": "quantitative"}
      }
    },
    {
      "data": {"values": [{}]},
      "mark": {"type": "rule", "color": "black", "strokeWidth": 2},
      "encoding": {
        "x": {"datum": 2.587, "type": "quantitative"},
        "y": {"datum": 69.72, "type": "quantitative"},
        "x2": {"datum": 2.725},
        "y2": {"datum": 66.3}
      }
    },
    {
      "data": {"values": [{}]},
      "mark": {"type": "point", "shape": "M -0.9 -1 L 0.9 -1 L 0 1 Z", "size": 441, "angle": -31, "filled": false, "fill": "white", "fillOpacity": 1, "stroke": "black", "strokeWidth": 2, "opacity": 1},
      "encoding": {
        "x": {"datum": 2.754, "type": "quantitative"},
        "y": {"datum": 65.56, "type": "quantitative"}
      }
    },
    {
      "mark": {"type": "text", "font": "Liberation Serif", "fontSize": 22, "align": "left", "baseline": "alphabetic", "dx": -45, "color": "black"},
      "encoding": {
        "x": {"field": "cond", "type": "quantitative"},
        "y": {"datum": 26.48, "type": "quantitative"},
        "text": {"field": "name"}
      }
    },
    {
      "mark": {"type": "text", "font": "Liberation Serif", "fontSize": 22, "align": "left", "baseline": "alphabetic", "dx": -45, "color": "black"},
      "encoding": {
        "x": {"field": "cond", "type": "quantitative"},
        "y": {"datum": 23.98, "type": "quantitative"},
        "text": {"field": "shape"}
      }
    },
    {
      "data": {"values": [{}]},
      "mark": {"type": "text", "text": "Name:", "font": "Liberation Serif", "fontSize": 22, "align": "left", "baseline": "alphabetic", "color": "black"},
      "encoding": {
        "x": {"datum": -0.1446, "type": "quantitative"},
        "y": {"datum": 26.48, "type": "quantitative"}
      }
    },
    {
      "data": {"values": [{}]},
      "mark": {"type": "text", "text": "Shape:", "font": "Liberation Serif", "fontSize": 22, "align": "left", "baseline": "alphabetic", "color": "black"},
      "encoding": {
        "x": {"datum": -0.1446, "type": "quantitative"},
        "y": {"datum": 23.98, "type": "quantitative"}
      }
    }
  ]
}
